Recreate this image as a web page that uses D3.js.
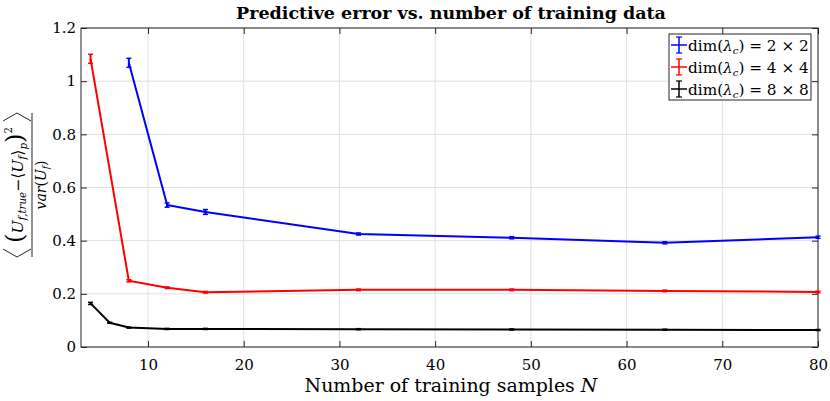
<!DOCTYPE html>
<html>
<head>
<meta charset="utf-8">
<script src="https://cdn.jsdelivr.net/npm/d3@7"></script>
<style>
  body { margin: 0; background: #fff; }
  text { font-family: "DejaVu Serif", "Liberation Serif", serif; fill: #000; }
</style>
</head>
<body>
<svg id="chart" width="830" height="401"></svg>
<script>
// training sample counts per series
var nBlue = [8, 12, 16, 32, 48, 64, 80],
    nRed = [4, 8, 12, 16, 32, 48, 64, 80],
    nBlack = [4, 6, 8, 12, 16, 32, 48, 64, 80];

// mean predictive error
var errBlue = [1.069, 0.534, 0.508, 0.425, 0.411, 0.392, 0.413],
    errRed = [1.084, 0.249, 0.223, 0.206, 0.215, 0.215, 0.211, 0.207],
    errBlack = [0.164, 0.091, 0.073, 0.068, 0.068, 0.067, 0.066, 0.065, 0.064];

// half width of the error bars
var barBlue = [0.017, 0.008, 0.009, 0.004, 0.004, 0.004, 0.004],
    barRed = [0.017, 0.004, 0.003, 0.003, 0.003, 0.003, 0.003, 0.003],
    barBlack = [0.004, 0.002, 0.002, 0.002, 0.002, 0.002, 0.002, 0.002, 0.002];

var xTicks = [10, 20, 30, 40, 50, 60, 70, 80],
    yTicks = [0, 0.2, 0.4, 0.6, 0.8, 1, 1.2];

var legendLabels = ['2 \u00d7 2', '4 \u00d7 4', '8 \u00d7 8'],
    colors = ['#0000ff', '#ff0000', '#000000'];

var series = [
    { n: nBlue, v: errBlue, e: barBlue },
    { n: nRed, v: errRed, e: barRed },
    { n: nBlack, v: errBlack, e: barBlack }
];

var svg = d3.select('#chart'),
    pLeft = 81, pRight = 818, pTop = 28, pBottom = 347;

var x = d3.scaleLinear().domain([3, 80]).range([pLeft, pRight]),
    y = d3.scaleLinear().domain([0, 1.2]).range([pBottom, pTop]);

// shrink/grow a text so it spans the width
function fitWidth(sel, target) {
    var base = parseFloat(sel.style('font-size')),
        w = sel.node().getComputedTextLength();
    sel.style('font-size', (base * target / w) + 'px');
}

// grid
var grid = svg.append('g');
grid.selectAll('line.gx').data(xTicks).enter().append('line')
    .attr('x1', x).attr('x2', x).attr('y1', pTop).attr('y2', pBottom)
    .attr('stroke', '#dfdfdf').attr('stroke-width', 1);
grid.selectAll('line.gy').data(yTicks).enter().append('line')
    .attr('x1', pLeft).attr('x2', pRight).attr('y1', y).attr('y2', y)
    .attr('stroke', '#dfdfdf').attr('stroke-width', 1);

// axes (ticks point inwards, box on all sides)
function styleAxis(g) {
    g.select('.domain').remove();
    g.selectAll('.tick line').attr('stroke', '#262626');
    g.selectAll('.tick text').style('font-size', '15px').style('font-family', '"DejaVu Serif", serif')
        .attr('fill', '#262626');
}
svg.append('g').attr('transform', 'translate(0,' + pBottom + ')')
    .call(d3.axisBottom(x).tickValues(xTicks).tickSizeInner(-6).tickSizeOuter(0).tickPadding(12))
    .call(styleAxis);
svg.append('g').attr('transform', 'translate(0,' + pTop + ')')
    .call(d3.axisTop(x).tickValues(xTicks).tickSizeInner(-6).tickSizeOuter(0).tickFormat(''))
    .call(styleAxis);
svg.append('g').attr('transform', 'translate(' + pLeft + ',0)')
    .call(d3.axisLeft(y).tickValues(yTicks).tickSizeInner(-6).tickSizeOuter(0).tickPadding(5)
        .tickFormat(d3.format('~g')))
    .call(styleAxis);
svg.append('g').attr('transform', 'translate(' + pRight + ',0)')
    .call(d3.axisRight(y).tickValues(yTicks).tickSizeInner(-6).tickSizeOuter(0).tickFormat(''))
    .call(styleAxis);
svg.append('rect').attr('x', pLeft).attr('y', pTop)
    .attr('width', pRight - pLeft).attr('height', pBottom - pTop)
    .attr('fill', 'none').attr('stroke', '#262626').attr('stroke-width', 1);

// lines and error bars
var line = d3.line().x(function (d) { return x(d[0]); }).y(function (d) { return y(d[1]); });
series.forEach(function (s, k) {
    var pts = s.n.map(function (n, i) { return [n, s.v[i], s.e[i]]; }),
        g = svg.append('g').attr('stroke', colors[k]);
    g.append('path').datum(pts).attr('d', line)
        .attr('fill', 'none').attr('stroke-width', 2).attr('stroke-linejoin', 'round');
    var eb = g.selectAll('g.eb').data(pts).enter().append('g');
    eb.append('line')
        .attr('x1', function (d) { return x(d[0]); }).attr('x2', function (d) { return x(d[0]); })
        .attr('y1', function (d) { return y(d[1] - d[2]); }).attr('y2', function (d) { return y(d[1] + d[2]); })
        .attr('stroke-width', 2);
    [-1, 1].forEach(function (sg) {
        eb.append('line')
            .attr('x1', function (d) { return x(d[0]) - 2.5; }).attr('x2', function (d) { return x(d[0]) + 2.5; })
            .attr('y1', function (d) { return y(d[1] + sg * d[2]); }).attr('y2', function (d) { return y(d[1] + sg * d[2]); })
            .attr('stroke-width', 1.5);
    });
});

// title and x label
var title = svg.append('text').attr('x', 451).attr('y', 19).attr('text-anchor', 'middle')
    .style('font-size', '16px').style('font-weight', 'bold')
    .text('Predictive error vs. number of training data');
fitWidth(title, 430);
var xl = svg.append('text').attr('x', 451).attr('y', 392).attr('text-anchor', 'middle')
    .style('font-size', '17px').attr('fill', '#262626');
xl.append('tspan').text('Number of training samples ');
xl.append('tspan').style('font-style', 'italic').text('N');
fitWidth(xl, 293);

// y label: rotated fraction
var yl = svg.append('g').attr('transform', 'translate(32,185) rotate(-90)');
yl.append('line').attr('x1', -72).attr('x2', 72).attr('y1', 0).attr('y2', 0)
    .attr('stroke', '#262626').attr('stroke-width', 1);
// big angle brackets
yl.append('path').attr('d', 'M-64,-29 L-72,-15 L-64,-1')
    .attr('fill', 'none').attr('stroke', '#262626').attr('stroke-width', 1);
yl.append('path').attr('d', 'M64,-29 L72,-15 L64,-1')
    .attr('fill', 'none').attr('stroke', '#262626').attr('stroke-width', 1);
var num = yl.append('text').attr('x', 0).attr('y', -9).attr('text-anchor', 'middle')
    .style('font-size', '14px').attr('fill', '#262626');
num.append('tspan').style('font-size', '1.55em').text('(');
num.append('tspan').style('font-style', 'italic').text('U');
num.append('tspan').style('font-style', 'italic').style('font-size', '0.65em').attr('dy', 3).text('f,true');
num.append('tspan').attr('dy', -3).text('\u2212\u27e8');
num.append('tspan').style('font-style', 'italic').text('U');
num.append('tspan').style('font-style', 'italic').style('font-size', '0.65em').attr('dy', 3).text('f');
num.append('tspan').attr('dy', -3).text('\u27e9');
num.append('tspan').style('font-style', 'italic').style('font-size', '0.65em').attr('dy', 4).text('p');
num.append('tspan').style('font-size', '1.55em').attr('dy', -4).text(')');
num.append('tspan').style('font-size', '0.65em').attr('dy', -11).text('2');
fitWidth(num, 116);
var den = yl.append('text').attr('x', 0).attr('y', 14).attr('text-anchor', 'middle')
    .style('font-size', '14px').attr('fill', '#262626');
den.append('tspan').style('font-style', 'italic').text('var');
den.append('tspan').text('(');
den.append('tspan').style('font-style', 'italic').text('U');
den.append('tspan').style('font-style', 'italic').style('font-size', '9px').attr('dy', 3).text('f');
den.append('tspan').attr('dy', -3).text(')');

// legend
var lg = svg.append('g').attr('transform', 'translate(669,34)');
lg.append('rect').attr('width', 142).attr('height', 66)
    .attr('fill', '#fff').attr('stroke', '#262626').attr('stroke-width', 1);
legendLabels.forEach(function (lab, i) {
    var cy = 11 + i * 22,
        r = lg.append('g').attr('transform', 'translate(0,' + cy + ')');
    r.append('line').attr('x1', 2).attr('x2', 18).attr('y1', 0).attr('y2', 0)
        .attr('stroke', colors[i]).attr('stroke-width', 1.5);
    r.append('line').attr('x1', 10).attr('x2', 10).attr('y1', -8).attr('y2', 8)
        .attr('stroke', colors[i]).attr('stroke-width', 1.5);
    r.append('line').attr('x1', 7).attr('x2', 13).attr('y1', -8).attr('y2', -8)
        .attr('stroke', colors[i]).attr('stroke-width', 1.2);
    r.append('line').attr('x1', 7).attr('x2', 13).attr('y1', 8).attr('y2', 8)
        .attr('stroke', colors[i]).attr('stroke-width', 1.2);
    var t = r.append('text').attr('x', 19).attr('y', 6).style('font-size', '15px').attr('fill', '#262626');
    t.append('tspan').text('dim(');
    t.append('tspan').style('font-style', 'italic').text('\u03bb');
    t.append('tspan').style('font-style', 'italic').style('font-size', '10px').attr('dy', 3).text('c');
    t.append('tspan').attr('dy', -3).text(') = ' + lab);
    fitWidth(t, 121);
});
</script>
</body>
</html>
